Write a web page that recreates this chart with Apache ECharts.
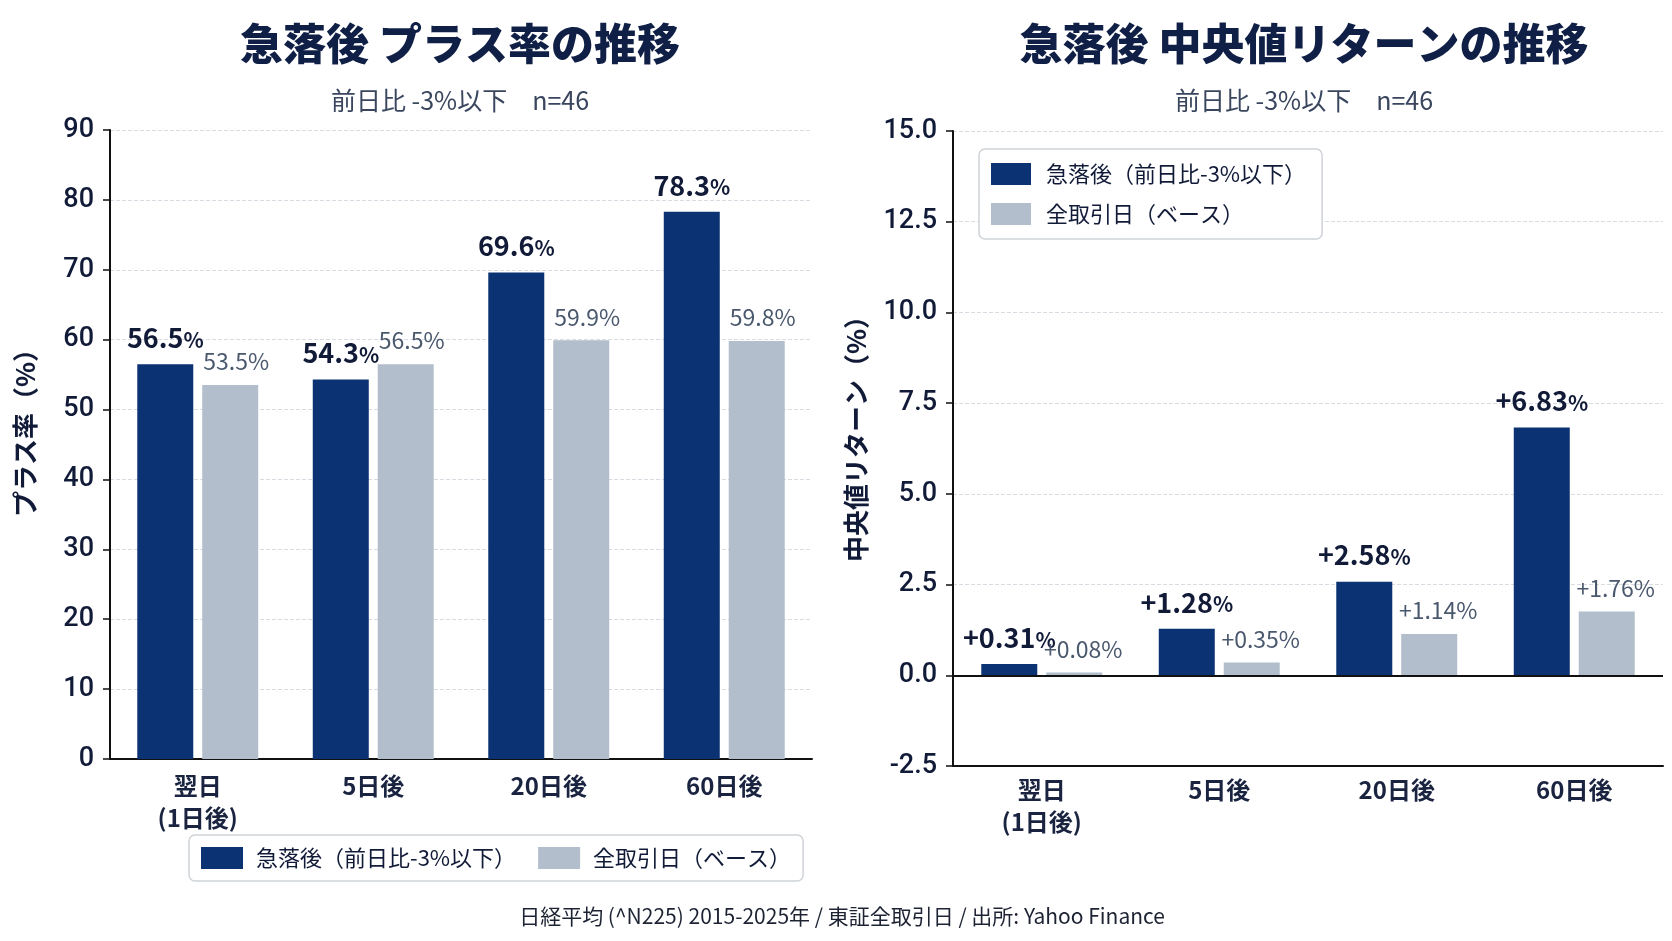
<!DOCTYPE html>
<html lang="ja">
<head>
<meta charset="UTF-8">
<title>急落後の推移</title>
<script src="https://cdn.jsdelivr.net/npm/echarts@6/dist/echarts.min.js"></script>
<style>
  html, body { margin: 0; padding: 0; background: #fff; }
  #main { width: 1672px; height: 941px; }
</style>
</head>
<body>
<div id="main"></div>
<script>
  // データ
  var categories = ['翌日\n(1日後)', '5日後', '20日後', '60日後'];
  var seriesNames = ['急落後（前日比-3%以下）', '全取引日（ベース）'];
  var plusRateCrash = [56.5, 54.3, 69.6, 78.3];
  var plusRateBase = [53.5, 56.5, 59.9, 59.8];
  var medianCrash = [0.31, 1.28, 2.58, 6.83];
  var medianBase = [0.08, 0.35, 1.14, 1.76];

  var NAVY = '#0b3272';
  var GREY = '#b2becb';
  var TEXT = '#111b38';
  var FONT = "'Noto Sans CJK JP', 'Noto Sans', sans-serif";
  var NUMFONT = "Roboto, 'Noto Sans', sans-serif";

  var myChart = echarts.init(document.getElementById('main'));

  // 棒の上の値ラベル
  function valueLabel(bold, fmt, dx) {
    return {
      show: true,
      position: 'top',
      distance: bold ? 13 : 12,
      offset: bold ? [0, 0] : [dx, 0],
      formatter: function (p) {
        return '{n|' + fmt(p.value) + '}{p|%}';
      },
      rich: bold ? {
        n: { fontSize: 27, fontWeight: 'bold', color: TEXT, fontFamily: FONT },
        p: { fontSize: 21, fontWeight: 'bold', color: TEXT, fontFamily: FONT, padding: [4, 0, 0, 0] }
      } : {
        n: { fontSize: 23, color: '#4a586e', fontFamily: FONT },
        p: { fontSize: 23, color: '#4a586e', fontFamily: FONT }
      }
    };
  }
  function fmtRate(v) { return v.toFixed(1); }
  function fmtRet(v) { return '+' + v.toFixed(2); }

  var yLabel = { fontSize: 27, color: TEXT, margin: 16, fontFamily: NUMFONT, fontWeight: 500 };
  var xLabel = { fontSize: 24, color: '#1a2440', fontWeight: 'bold', margin: 11, lineHeight: 32, fontFamily: FONT };
  var splitDash = { show: true, lineStyle: { color: '#d8dce2', type: 'dashed', width: 1 } };
  var blackLine = { show: true, lineStyle: { color: '#111', width: 2 } };
  var yTick = { show: true, length: 7, lineStyle: { color: '#111', width: 1.5 } };

  var option = {
    backgroundColor: '#fff',
    textStyle: { fontFamily: FONT },
    animation: false,
    title: [
      { text: '急落後 プラス率の推移', left: 455, top: 17, textAlign: 'center',
        textStyle: { fontSize: 43, fontWeight: 900, color: '#0f1f45' } },
      { text: '前日比 -3%以下　n=46', left: 455, top: 83, textAlign: 'center',
        textStyle: { fontSize: 25, fontWeight: 'normal', color: '#3a465e' } },
      { text: '急落後 中央値リターンの推移', left: 1299, top: 17, textAlign: 'center',
        textStyle: { fontSize: 43, fontWeight: 900, color: '#0f1f45' } },
      { text: '前日比 -3%以下　n=46', left: 1299, top: 83, textAlign: 'center',
        textStyle: { fontSize: 25, fontWeight: 'normal', color: '#3a465e' } },
      { text: '日経平均 (^N225) 2015-2025年 / 東証全取引日 / 出所: Yahoo Finance', left: 837, top: 901, textAlign: 'center',
        textStyle: { fontSize: 21, fontWeight: 'normal', color: '#1d2333' } }
    ],
    legend: [
      {
        data: seriesNames,
        orient: 'horizontal',
        left: 189, top: 835,
        padding: [12, 12, 12, 12],
        itemGap: 22,
        itemWidth: 42, itemHeight: 22,
        icon: 'rect',
        borderColor: '#cfd3d8', borderWidth: 1.5, borderRadius: 6,
        backgroundColor: '#fff',
        textStyle: { fontSize: 22, color: TEXT, padding: [0, 0, 0, 8] }
      },
      {
        data: seriesNames,
        orient: 'vertical',
        left: 979, top: 149,
        padding: [14, 16, 14, 12],
        itemGap: 18,
        itemWidth: 40, itemHeight: 22,
        icon: 'rect',
        borderColor: '#cfd3d8', borderWidth: 1.5, borderRadius: 6,
        backgroundColor: '#fff',
        textStyle: { fontSize: 22, color: TEXT, padding: [0, 0, 0, 10] }
      }
    ],
    grid: [
      { left: 110, right: 860, top: 130, bottom: 182 },
      { left: 953, right: 9, top: 131, bottom: 175 }
    ],
    xAxis: [
      { type: 'category', gridIndex: 0, data: categories,
        axisLine: blackLine, axisTick: { show: false }, axisLabel: xLabel },
      { type: 'category', gridIndex: 1, data: categories,
        axisLine: { show: true, onZero: false, lineStyle: { color: '#111', width: 2 } },
        axisTick: { show: false }, axisLabel: Object.assign({}, xLabel, { margin: 8 }) }
    ],
    yAxis: [
      { type: 'value', gridIndex: 0, min: 0, max: 90, interval: 10,
        name: 'プラス率（%）', nameLocation: 'middle', nameGap: 72, nameRotate: 90,
        nameTextStyle: { fontSize: 26, fontWeight: 'bold', color: TEXT, padding: [0, 0, 0, 36] },
        axisLine: blackLine, axisTick: yTick,
        axisLabel: yLabel, splitLine: splitDash },
      { type: 'value', gridIndex: 1, min: -2.5, max: 15, interval: 2.5,
        name: '中央値リターン（%）', nameLocation: 'middle', nameGap: 84, nameRotate: 90,
        nameTextStyle: { fontSize: 26, fontWeight: 'bold', color: TEXT, padding: [0, 0, 0, 32] },
        axisLine: blackLine, axisTick: yTick,
        axisLabel: Object.assign({}, yLabel, { formatter: function (v) { return v.toFixed(1); } }),
        splitLine: splitDash }
    ],
    series: [
      { name: seriesNames[0], type: 'bar', xAxisIndex: 0, yAxisIndex: 0,
        data: plusRateCrash, barWidth: 56, barGap: '16%',
        itemStyle: { color: NAVY }, label: valueLabel(true, fmtRate, 0) },
      { name: seriesNames[1], type: 'bar', xAxisIndex: 0, yAxisIndex: 0,
        data: plusRateBase, barWidth: 56, barGap: '16%',
        itemStyle: { color: GREY }, label: valueLabel(false, fmtRate, 6) },
      { name: seriesNames[0], type: 'bar', xAxisIndex: 1, yAxisIndex: 1,
        data: medianCrash, barWidth: 56, barGap: '16%',
        itemStyle: { color: NAVY }, label: valueLabel(true, fmtRet, 0),
        markLine: {
          silent: true, symbol: 'none', label: { show: false },
          lineStyle: { color: '#111', width: 2, type: 'solid' },
          data: [{ yAxis: 0 }]
        } },
      { name: seriesNames[1], type: 'bar', xAxisIndex: 1, yAxisIndex: 1,
        data: medianBase, barWidth: 56, barGap: '16%',
        itemStyle: { color: GREY }, label: valueLabel(false, fmtRet, 9) }
    ]
  };

  myChart.setOption(option);
</script>
</body>
</html>
